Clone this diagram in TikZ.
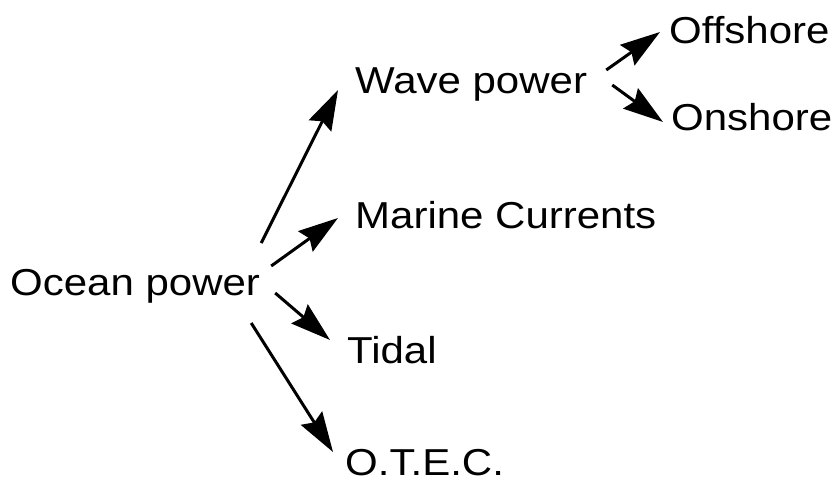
\documentclass[tikz,border=0pt]{standalone}
\usepackage{fontspec}
\setmainfont{Liberation Sans}[FakeStretch=1.12]
\usetikzlibrary{arrows.meta, calc}

\begin{document}
\begin{tikzpicture}[
    x=1pt, y=-1pt,
    font=\fontsize{37.5}{40}\selectfont,
    lbl/.style={inner sep=0pt, anchor=base west},
    arr/.style={-{Stealth[length=40pt, width=25pt, inset=5pt]}, line width=3pt},
]
\useasboundingbox (0,0) rectangle (834,482);

\node[lbl] (ocean) at (10,295) {Ocean power};
\node[lbl] (wave) at (355,93) {Wave power};
\node[lbl] (marine) at (355,228) {Marine Currents};
\node[lbl] (tidal) at (347,363) {Tidal};
\node[lbl] (otec) at (345,475) {O.T.E.C.};
\node[lbl] (offshore) at (669,43) {Offshore};
\node[lbl] (onshore) at (671,130) {Onshore};

\draw[arr] ($(ocean.base east)+(1,-52)$) -- ($(wave.base west)+(-17,-3)$);
\draw[arr] ($(ocean.base east)+(11,-29)$) -- ($(marine.base west)+(-17,-10)$);
\draw[arr] ($(ocean.base east)+(15,-2)$) -- ($(tidal.base west)+(-17,-23)$);
\draw[arr] ($(ocean.base east)+(-9,28)$) -- ($(otec.base west)+(-12,-23)$);
\draw[arr] ($(wave.base east)+(19,-23)$) -- ($(offshore.base west)+(-9,-11)$);
\draw[arr] ($(wave.base east)+(25,-8)$) -- ($(onshore.base west)+(-8,-8)$);

\end{tikzpicture}
\end{document}
